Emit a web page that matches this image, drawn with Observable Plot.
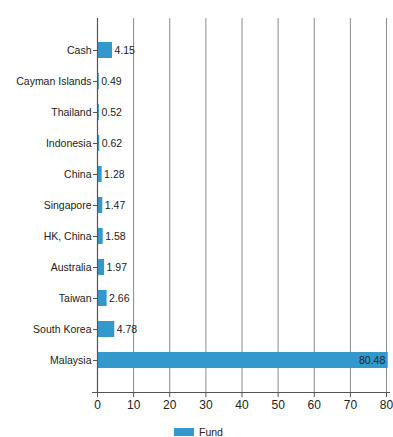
<!DOCTYPE html>
<html>
<head>
<meta charset="utf-8">
<script src="https://cdn.jsdelivr.net/npm/d3@7"></script>
<script src="https://cdn.jsdelivr.net/npm/@observablehq/plot@0.6"></script>
<style>
  body { margin: 0; background: #fff; font-family: "Liberation Sans", Arial, sans-serif; }
  #legend { display: flex; align-items: center; justify-content: center; gap: 5px; font-size: 10.5px; line-height: 12px; color: #222; margin-top: 3px; padding-left: 4px; }
  #legend .sw { width: 20px; height: 8px; background: #3399cc; }
</style>
</head>
<body>
<div id="chart"></div>
<div id="legend"><span class="sw"></span><span>Fund</span></div>
<script>
const categories = ["Cash", "Cayman Islands", "Thailand", "Indonesia", "China", "Singapore", "HK, China", "Australia", "Taiwan", "South Korea", "Malaysia"];
const values = [4.15, 0.49, 0.52, 0.62, 1.28, 1.47, 1.58, 1.97, 2.66, 4.78, 80.48];
const xTicks = [0, 10, 20, 30, 40, 50, 60, 70, 80];
const seriesName = "Fund";

const data = categories.map((c, i) => ({category: c, value: values[i]}));
const maxVal = d3.max(values);

const plot = Plot.plot({
  width: 393,
  height: 423,
  marginLeft: 97,
  marginRight: 7,
  marginTop: 18,
  marginBottom: 31,
  style: {fontFamily: "'Liberation Sans', Arial, sans-serif", fontSize: "10.5px", color: "#222", background: "#fff"},
  x: {domain: [0, 80], ticks: xTicks},
  y: {domain: categories, paddingInner: 0.48, paddingOuter: 0.24, inset: 16, label: null},
  marks: [
    Plot.gridX(xTicks.filter(t => t > 0), {stroke: "#8a8a8a", strokeOpacity: 1, strokeWidth: 1}),
    Plot.barX(data, {x: "value", y: "category", fill: "#3399cc"}),
    Plot.ruleX([0], {stroke: "#555", strokeWidth: 1.2}),
    Plot.frame({anchor: "bottom", stroke: "#555", insetLeft: -5, insetRight: -3}),
    Plot.axisX({ticks: xTicks, tickSize: 5, tickPadding: 3, fontSize: 12, stroke: "#555", label: null}),
    Plot.axisY({tickSize: 4, tickPadding: 2, fontSize: 10.5, stroke: "#555"}),
    Plot.text(data.filter(d => d.value < maxVal), {x: "value", y: "category", text: d => d.value.toFixed(2), textAnchor: "start", dx: 2, fontSize: 10.5, fill: "#222"}),
    Plot.text(data.filter(d => d.value === maxVal), {x: "value", y: "category", text: d => d.value.toFixed(2), textAnchor: "end", dx: -3, fontSize: 10.5, fill: "#222"})
  ]
});
document.getElementById("chart").appendChild(plot);
</script>
</body>
</html>
